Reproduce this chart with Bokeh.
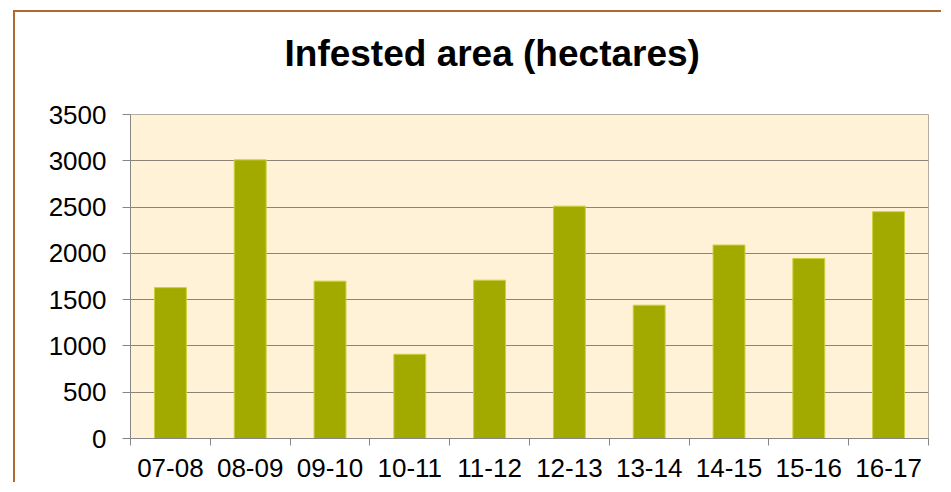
from bokeh.plotting import figure
from bokeh.models import FixedTicker, ColumnDataSource, Range1d, Title
from bokeh.embed import file_html
from bokeh.resources import INLINE

seasons = ["07-08", "08-09", "09-10", "10-11", "11-12", "12-13", "13-14", "14-15", "15-16", "16-17"]
infested_area = [1630, 3010, 1700, 910, 1710, 2510, 1440, 2090, 1945, 2450]
y_ticks = [0, 500, 1000, 1500, 2000, 2500, 3000, 3500]
title_text = "Infested area (hectares)"

FONT = "Liberation Sans"

positions = [i + 0.5 for i in range(len(seasons))]
source = ColumnDataSource(dict(x=positions, top=infested_area, season=seasons))

p = figure(width=928, height=472, output_backend="svg", toolbar_location=None,
           x_range=Range1d(0, len(seasons)), y_range=Range1d(0, 3500),
           min_border_left=115, min_border_top=102, min_border_right=15, min_border_bottom=46,
           background_fill_color="#FFF2D6", border_fill_color="white")
p.margin = (10, 0, 0, 13)
p.styles = {"border-left": "2px solid #B06A30", "border-top": "2px solid #B06A30"}

p.vbar(x="x", top="top", width=0.4, source=source,
       fill_color="#A2AA00", line_color="#CBD23C", line_width=1)

# title: a trailing empty line lifts the text away from the plot frame
title = Title(text=title_text + "\n", text_font=FONT, text_font_size="37px",
              text_font_style="bold", text_color="black", text_line_height=0.9,
              align="left", offset=154, vertical_align="bottom", standoff=7)
p.add_layout(title, "above")

p.outline_line_color = "#B5AD9F"
p.outline_line_width = 1

# y axis
p.yaxis.ticker = FixedTicker(ticks=y_ticks)
p.yaxis.major_label_text_font = FONT
p.yaxis.major_label_text_font_size = "26px"
p.yaxis.major_label_text_color = "black"
p.yaxis.major_tick_out = 8
p.yaxis.major_tick_in = 0
p.yaxis.minor_tick_line_color = None
p.yaxis.axis_line_color = "#868686"
p.yaxis.major_tick_line_color = "#868686"
p.yaxis.major_label_standoff = 16

p.ygrid.ticker = FixedTicker(ticks=y_ticks[1:-1])
p.ygrid.grid_line_color = "#8C8478"
p.ygrid.grid_line_width = 1
p.xgrid.grid_line_color = None

# x axis: labels at centers, ticks at boundaries
p.xaxis.ticker = FixedTicker(ticks=positions, minor_ticks=list(range(len(seasons) + 1)))
p.xaxis.major_label_overrides = {pos: s for pos, s in zip(positions, seasons)}
p.xaxis.major_tick_out = 0
p.xaxis.major_tick_in = 0
p.xaxis.minor_tick_out = 7
p.xaxis.minor_tick_in = 0
p.xaxis.minor_tick_line_color = "#868686"
p.xaxis.axis_line_color = "#868686"
p.xaxis.major_label_text_font = FONT
p.xaxis.major_label_text_font_size = "26px"
p.xaxis.major_label_text_color = "black"
p.xaxis.major_label_standoff = 13

open("out.html", "w").write(file_html(p, INLINE))
